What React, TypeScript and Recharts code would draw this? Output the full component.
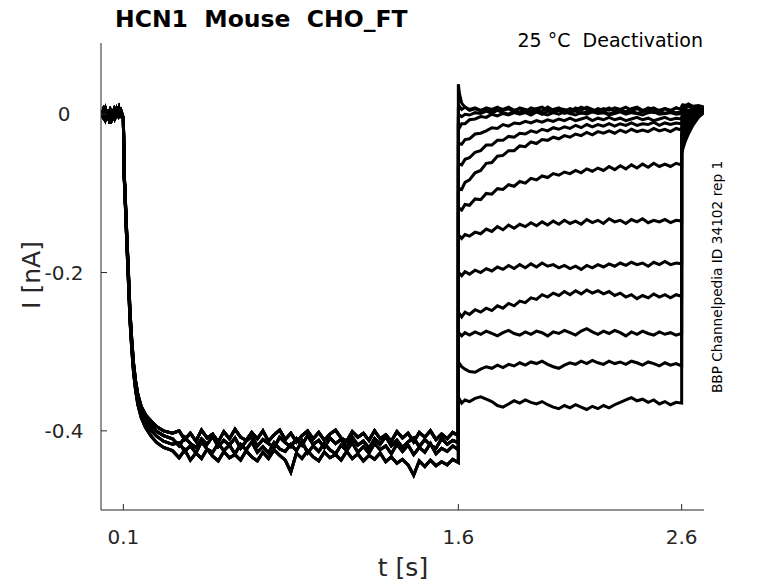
import React from 'react';
import { LineChart, Line, XAxis, YAxis } from 'recharts';

// ---- time bases (s) ----
const PRE_T = [0, 0.01, 0.02, 0.03, 0.04, 0.05, 0.06, 0.07, 0.08, 0.09];
const ACT_T = [0.1, 0.104, 0.108, 0.112, 0.118, 0.124, 0.13, 0.138, 0.146, 0.155, 0.165, 0.18, 0.2, 0.225, 0.25, 0.28, 0.32,
  0.35, 0.375, 0.4, 0.425, 0.45, 0.475, 0.5, 0.525, 0.55, 0.575, 0.6, 0.625, 0.65, 0.675, 0.7, 0.725, 0.75, 0.775, 0.8, 0.825,
  0.85, 0.875, 0.9, 0.925, 0.95, 0.975, 1.0, 1.025, 1.05, 1.075, 1.1, 1.125, 1.15, 1.175, 1.2, 1.225, 1.25, 1.275, 1.3, 1.325,
  1.35, 1.375, 1.4, 1.425, 1.45, 1.475, 1.5, 1.525, 1.55, 1.575, 1.6];
const POST_T = [1.6, 1.605, 1.615, 1.63, 1.65, 1.675, 1.7, 1.725, 1.75, 1.775, 1.8, 1.825, 1.85, 1.875, 1.9, 1.925, 1.95, 1.975,
  2.0, 2.025, 2.05, 2.075, 2.1, 2.125, 2.15, 2.175, 2.2, 2.225, 2.25, 2.275, 2.3, 2.325, 2.35, 2.375, 2.4, 2.425, 2.45, 2.475,
  2.5, 2.525, 2.55, 2.575, 2.6];
const TAIL_T = [2.6, 2.605, 2.615, 2.63, 2.65, 2.675, 2.7];

// ---- holding baseline (nA) ----
const PRE_A = [0.004, -0.003, 0.007, -0.002, 0.005, -0.004, 0.006, -0.001, 0.008, -0.003];
const PRE_B = [-0.004, 0.005, -0.006, 0.003, -0.012, 0.002, -0.005, 0.006, -0.002, 0.004];

// ---- activation step (nA) ----
const ACT_A = [-0.005, -0.075, -0.1, -0.128, -0.168, -0.207, -0.25, -0.286, -0.315, -0.337, -0.354, -0.369, -0.38, -0.388, -0.395, -0.4, -0.403,
  -0.4, -0.411, -0.403, -0.413, -0.399, -0.409, -0.404, -0.414, -0.401, -0.41, -0.398, -0.408, -0.412, -0.402, -0.41, -0.4, -0.413, -0.405, -0.399, -0.411,
  -0.403, -0.414, -0.406, -0.4, -0.41, -0.402, -0.412, -0.404, -0.399, -0.409, -0.413, -0.401, -0.408, -0.403, -0.412, -0.4, -0.41, -0.405, -0.413, -0.401,
  -0.409, -0.403, -0.414, -0.402, -0.408, -0.4, -0.411, -0.404, -0.41, -0.402, -0.406];
const ACT_B = [-0.005, -0.077, -0.103, -0.132, -0.172, -0.212, -0.254, -0.29, -0.319, -0.341, -0.358, -0.373, -0.385, -0.394, -0.401, -0.406, -0.41,
  -0.419, -0.408, -0.416, -0.421, -0.41, -0.417, -0.407, -0.42, -0.412, -0.418, -0.409, -0.422, -0.413, -0.407, -0.419, -0.411, -0.416, -0.421, -0.408, -0.415,
  -0.42, -0.41, -0.418, -0.406, -0.417, -0.412, -0.421, -0.409, -0.416, -0.411, -0.42, -0.408, -0.418, -0.413, -0.422, -0.41, -0.417, -0.407, -0.419, -0.412,
  -0.421, -0.414, -0.409, -0.42, -0.411, -0.418, -0.422, -0.41, -0.417, -0.412, -0.415];
const ACT_C = [-0.005, -0.079, -0.105, -0.135, -0.176, -0.216, -0.258, -0.294, -0.323, -0.345, -0.362, -0.377, -0.39, -0.4, -0.407, -0.413, -0.417,
  -0.415, -0.426, -0.419, -0.428, -0.414, -0.423, -0.427, -0.416, -0.425, -0.418, -0.429, -0.417, -0.424, -0.414, -0.427, -0.42, -0.428, -0.415, -0.423, -0.426,
  -0.417, -0.425, -0.413, -0.428, -0.419, -0.426, -0.416, -0.424, -0.429, -0.418, -0.425, -0.415, -0.427, -0.42, -0.428, -0.416, -0.424, -0.419, -0.429, -0.417,
  -0.426, -0.418, -0.43, -0.421, -0.427, -0.416, -0.429, -0.422, -0.426, -0.419, -0.424];
const ACT_D = [-0.005, -0.081, -0.108, -0.138, -0.18, -0.22, -0.262, -0.298, -0.327, -0.349, -0.367, -0.383, -0.396, -0.407, -0.415, -0.421, -0.425,
  -0.434, -0.424, -0.437, -0.428, -0.435, -0.423, -0.432, -0.438, -0.426, -0.434, -0.43, -0.437, -0.425, -0.433, -0.438, -0.427, -0.435, -0.424, -0.431, -0.437,
  -0.452, -0.428, -0.435, -0.425, -0.433, -0.438, -0.427, -0.434, -0.43, -0.437, -0.426, -0.435, -0.429, -0.438, -0.431, -0.436, -0.428, -0.439, -0.433, -0.441,
  -0.436, -0.443, -0.456, -0.438, -0.445, -0.437, -0.444, -0.439, -0.443, -0.436, -0.44];

// ---- deactivation test steps (nA), one per sweep ----
const POST_0 = [0.038, 0.026, 0.014, 0.009, 0.006, 0.008, 0.005, 0.007, 0.004, 0.008, 0.006, 0.009, 0.005, 0.007, 0.003, 0.008, 0.006, 0.004, 0.009, 0.005,
  0.007, 0.006, 0.003, 0.008, 0.005, 0.009, 0.006, 0.004, 0.007, 0.005, 0.008, 0.006, 0.003, 0.007, 0.009, 0.005, 0.006, 0.008, 0.004, 0.007, 0.005, 0.008, 0.006];
const POST_1 = [0.008, 0.01, 0.006, 0.009, 0.005, 0.007, 0.004, 0.008, 0.006, 0.009, 0.005, 0.007, 0.003, 0.008, 0.006, 0.004, 0.007, 0.009, 0.005, 0.006,
  0.008, 0.004, 0.007, 0.005, 0.009, 0.006, 0.003, 0.007, 0.005, 0.008, 0.004, 0.006, 0.009, 0.005, 0.007, 0.004, 0.008, 0.006, 0.005, 0.007, 0.004, 0.008, 0.006];
const POST_2 = [-0.004, -0.001, -0.003, 0.0, -0.001, 0.002, 0.001, 0.004, 0.001, 0.005, 0.002, 0.0, 0.004, 0.002, 0.005, 0.001, 0.003, 0.0, 0.004, 0.002,
  0.005, 0.001, 0.003, 0.004, 0.001, 0.003, 0.005, 0.002, 0.004, 0.0, 0.003, 0.005, 0.002, 0.004, 0.001, 0.003, 0.005, 0.002, 0.004, 0.001, 0.003, 0.002, 0.003];
const POST_3 = [-0.016, -0.017, -0.012, -0.012, -0.007, -0.006, -0.003, -0.004, 0.0, -0.002, 0.001, -0.001, 0.002, 0.0, 0.002, -0.001, 0.003, 0.001, -0.001, 0.002,
  0.0, 0.003, 0.001, -0.001, 0.002, 0.0, 0.003, 0.001, 0.002, -0.001, 0.001, 0.003, 0.0, 0.002, 0.001, -0.001, 0.002, 0.003, 0.0, 0.001, 0.002, 0.0, 0.001];
const POST_4 = [-0.04, -0.037, -0.038, -0.032, -0.031, -0.025, -0.024, -0.021, -0.017, -0.018, -0.013, -0.015, -0.011, -0.012, -0.009, -0.011, -0.008, -0.01, -0.007, -0.009,
  -0.006, -0.008, -0.005, -0.008, -0.006, -0.004, -0.008, -0.005, -0.007, -0.004, -0.007, -0.005, -0.008, -0.006, -0.004, -0.007, -0.005, -0.008, -0.006, -0.004, -0.007, -0.005, -0.006];
const POST_5 = [-0.066, -0.063, -0.064, -0.057, -0.055, -0.048, -0.046, -0.039, -0.039, -0.033, -0.033, -0.028, -0.029, -0.024, -0.025, -0.021, -0.023, -0.019, -0.021, -0.017,
  -0.019, -0.016, -0.018, -0.014, -0.017, -0.013, -0.016, -0.013, -0.015, -0.012, -0.015, -0.012, -0.014, -0.011, -0.014, -0.012, -0.013, -0.01, -0.014, -0.011, -0.013, -0.011, -0.012];
const POST_6 = [-0.098, -0.094, -0.095, -0.086, -0.083, -0.074, -0.071, -0.062, -0.061, -0.053, -0.052, -0.046, -0.046, -0.04, -0.041, -0.035, -0.037, -0.032, -0.033, -0.029,
  -0.031, -0.027, -0.029, -0.025, -0.027, -0.023, -0.026, -0.022, -0.024, -0.021, -0.024, -0.02, -0.023, -0.019, -0.022, -0.02, -0.022, -0.018, -0.021, -0.019, -0.022, -0.018, -0.02];
const POST_7 = [-0.123, -0.119, -0.121, -0.114, -0.115, -0.107, -0.108, -0.1, -0.101, -0.094, -0.095, -0.089, -0.091, -0.085, -0.087, -0.081, -0.083, -0.078, -0.08, -0.075,
  -0.077, -0.073, -0.075, -0.071, -0.074, -0.069, -0.072, -0.068, -0.071, -0.066, -0.07, -0.065, -0.069, -0.064, -0.068, -0.063, -0.067, -0.062, -0.066, -0.063, -0.066, -0.062, -0.064];
const POST_8 = [-0.158, -0.154, -0.157, -0.152, -0.154, -0.149, -0.151, -0.145, -0.148, -0.142, -0.146, -0.14, -0.144, -0.139, -0.142, -0.137, -0.141, -0.136, -0.14, -0.135,
  -0.139, -0.134, -0.138, -0.135, -0.139, -0.133, -0.137, -0.134, -0.138, -0.132, -0.136, -0.134, -0.138, -0.133, -0.136, -0.132, -0.137, -0.134, -0.136, -0.133, -0.137, -0.134, -0.135];
const POST_9 = [-0.205, -0.201, -0.204, -0.199, -0.202, -0.197, -0.2, -0.195, -0.198, -0.193, -0.196, -0.191, -0.195, -0.19, -0.194, -0.189, -0.193, -0.188, -0.192, -0.19,
  -0.194, -0.191, -0.195, -0.192, -0.196, -0.191, -0.194, -0.19, -0.193, -0.189, -0.192, -0.188, -0.191, -0.187, -0.19, -0.188, -0.192, -0.187, -0.19, -0.186, -0.19, -0.188, -0.189];
const POST_10 = [-0.256, -0.252, -0.256, -0.25, -0.253, -0.247, -0.25, -0.245, -0.248, -0.242, -0.245, -0.239, -0.242, -0.236, -0.238, -0.232, -0.234, -0.228, -0.231, -0.226,
  -0.229, -0.224, -0.228, -0.223, -0.227, -0.222, -0.226, -0.223, -0.227, -0.224, -0.229, -0.226, -0.231, -0.228, -0.233, -0.229, -0.232, -0.227, -0.231, -0.228, -0.232, -0.228, -0.23];
const POST_11 = [-0.281, -0.277, -0.28, -0.276, -0.279, -0.275, -0.278, -0.274, -0.277, -0.28, -0.276, -0.273, -0.277, -0.279, -0.275, -0.278, -0.274, -0.276, -0.28, -0.275,
  -0.277, -0.273, -0.276, -0.279, -0.274, -0.271, -0.275, -0.278, -0.274, -0.277, -0.273, -0.276, -0.28, -0.275, -0.278, -0.274, -0.277, -0.279, -0.275, -0.278, -0.276, -0.279, -0.277];
const POST_12 = [-0.318, -0.315, -0.319, -0.322, -0.325, -0.326, -0.322, -0.319, -0.321, -0.317, -0.32, -0.316, -0.318, -0.314, -0.317, -0.313, -0.315, -0.312, -0.316, -0.319,
  -0.321, -0.317, -0.314, -0.316, -0.312, -0.315, -0.311, -0.314, -0.316, -0.312, -0.315, -0.313, -0.316, -0.312, -0.314, -0.317, -0.313, -0.315, -0.318, -0.314, -0.317, -0.315, -0.318];
const POST_13 = [-0.364, -0.36, -0.365, -0.361, -0.363, -0.359, -0.357, -0.36, -0.363, -0.368, -0.37, -0.366, -0.362, -0.365, -0.361, -0.364, -0.366, -0.363, -0.367, -0.37,
  -0.372, -0.368, -0.371, -0.367, -0.37, -0.373, -0.369, -0.372, -0.368, -0.371, -0.367, -0.364, -0.361, -0.358, -0.362, -0.36, -0.364, -0.361, -0.366, -0.363, -0.367, -0.364, -0.365];

// ---- return step tails (nA), one per sweep ----
const TAIL_0 = [0.01, 0.012, 0.011, 0.013, 0.01, 0.011, 0.009];
const TAIL_1 = [0.007, 0.009, 0.008, 0.01, 0.008, 0.009, 0.007];
const TAIL_2 = [0.004, 0.005, 0.006, 0.005, 0.006, 0.007, 0.006];
const TAIL_3 = [0.001, 0.002, 0.003, 0.004, 0.005, 0.005, 0.006];
const TAIL_4 = [-0.003, -0.002, 0.0, 0.002, 0.003, 0.005, 0.005];
const TAIL_5 = [-0.007, -0.006, -0.003, 0.0, 0.002, 0.004, 0.005];
const TAIL_6 = [-0.012, -0.01, -0.007, -0.003, 0.0, 0.003, 0.005];
const TAIL_7 = [-0.018, -0.015, -0.011, -0.006, -0.002, 0.002, 0.005];
const TAIL_8 = [-0.025, -0.021, -0.016, -0.01, -0.004, 0.001, 0.005];
const TAIL_9 = [-0.03, -0.026, -0.019, -0.013, -0.006, 0.0, 0.004];
const TAIL_10 = [-0.035, -0.03, -0.023, -0.016, -0.008, -0.001, 0.004];
const TAIL_11 = [-0.04, -0.035, -0.027, -0.019, -0.01, -0.002, 0.003];
const TAIL_12 = [-0.045, -0.04, -0.031, -0.022, -0.012, -0.003, 0.003];
const TAIL_13 = [-0.05, -0.044, -0.035, -0.025, -0.014, -0.004, 0.002];

const X_TICKS = [0.1, 1.6, 2.6];
const Y_TICKS = [-0.4, -0.2, 0];

const PRE_SETS = [PRE_A, PRE_B];
const ACT_SETS = [ACT_A, ACT_B, ACT_C, ACT_D];
const POST_SETS = [POST_0, POST_1, POST_2, POST_3, POST_4, POST_5, POST_6, POST_7, POST_8, POST_9, POST_10, POST_11, POST_12, POST_13];
const TAIL_SETS = [TAIL_0, TAIL_1, TAIL_2, TAIL_3, TAIL_4, TAIL_5, TAIL_6, TAIL_7, TAIL_8, TAIL_9, TAIL_10, TAIL_11, TAIL_12, TAIL_13];

const TRACES = POST_SETS.map((post, k) => [
  ...PRE_T.map((t, i) => ({ t, v: PRE_SETS[k % 2][i] })),
  ...ACT_T.map((t, i) => ({ t, v: ACT_SETS[k % 4][i] })),
  ...POST_T.map((t, i) => ({ t, v: post[i] })),
  ...TAIL_T.map((t, i) => ({ t, v: TAIL_SETS[k][i] })),
]);

const W = 778;
const H = 583;
const PLOT_LEFT = 101;
const PLOT_BOTTOM = 510;
const FONT = 'DejaVu Sans';
const AXIS_COLOR = '#262626';

const XTick = (props: any) => {
  const { x, payload } = props;
  return (
    <g>
      <line x1={x} x2={x} y1={PLOT_BOTTOM} y2={PLOT_BOTTOM - 6} stroke={AXIS_COLOR} strokeWidth={1} />
      <text x={x} y={544} textAnchor="middle" fontSize={20} fontFamily={FONT} fill={AXIS_COLOR}>
        {String(payload.value)}
      </text>
    </g>
  );
};

const YTick = (props: any) => {
  const { y, payload } = props;
  return (
    <g>
      <line x1={PLOT_LEFT} x2={PLOT_LEFT + 6} y1={y} y2={y} stroke={AXIS_COLOR} strokeWidth={1} />
      <text x={64} y={y + 7} textAnchor="middle" fontSize={20} fontFamily={FONT} fill={AXIS_COLOR}>
        {String(payload.value)}
      </text>
    </g>
  );
};

export default function App() {
  return (
    <div style={{ position: 'absolute', left: 0, top: 0, width: W, height: H, background: '#fff' }}>
      <LineChart width={W} height={H} margin={{ top: 43, right: 74, left: 41, bottom: 33 }}>
        <XAxis
          type="number"
          dataKey="t"
          domain={[0, 2.7]}
          ticks={X_TICKS}
          allowDataOverflow
          height={40}
          tickLine={false}
          axisLine={{ stroke: AXIS_COLOR, strokeWidth: 1 }}
          tick={<XTick />}
        />
        <YAxis
          type="number"
          dataKey="v"
          domain={[-0.5, 0.09]}
          ticks={Y_TICKS}
          allowDataOverflow
          width={60}
          tickLine={false}
          axisLine={{ stroke: AXIS_COLOR, strokeWidth: 1 }}
          tick={<YTick />}
        />
        {TRACES.map((d, k) => (
          <Line
            key={k}
            data={d}
            dataKey="v"
            type="linear"
            stroke="#000"
            strokeWidth={3}
            dot={false}
            activeDot={false}
            isAnimationActive={false}
          />
        ))}
      </LineChart>
      <svg width={W} height={H} style={{ position: 'absolute', left: 0, top: 0, pointerEvents: 'none' }}>
        <text x={115} y={27} fontSize={23.5} fontWeight="bold" fontFamily={FONT} fill="#000" style={{ whiteSpace: 'pre' }}>
          {'HCN1  Mouse  CHO_FT'}
        </text>
        <text x={703} y={47} textAnchor="end" fontSize={19} fontFamily={FONT} fill="#000" style={{ whiteSpace: 'pre' }}>
          {'25 °C  Deactivation'}
        </text>
        <text x={403} y={576} textAnchor="middle" fontSize={25} fontFamily={FONT} fill={AXIS_COLOR}>
          t [s]
        </text>
        <text transform="translate(40,275) rotate(-90)" textAnchor="middle" fontSize={25} fontFamily={FONT} fill={AXIS_COLOR}>
          I [nA]
        </text>
        <text transform="translate(722,277) rotate(-90)" textAnchor="middle" fontSize={13.7} fontFamily={FONT} fill="#000">
          BBP Channelpedia ID 34102 rep 1
        </text>
      </svg>
    </div>
  );
}
